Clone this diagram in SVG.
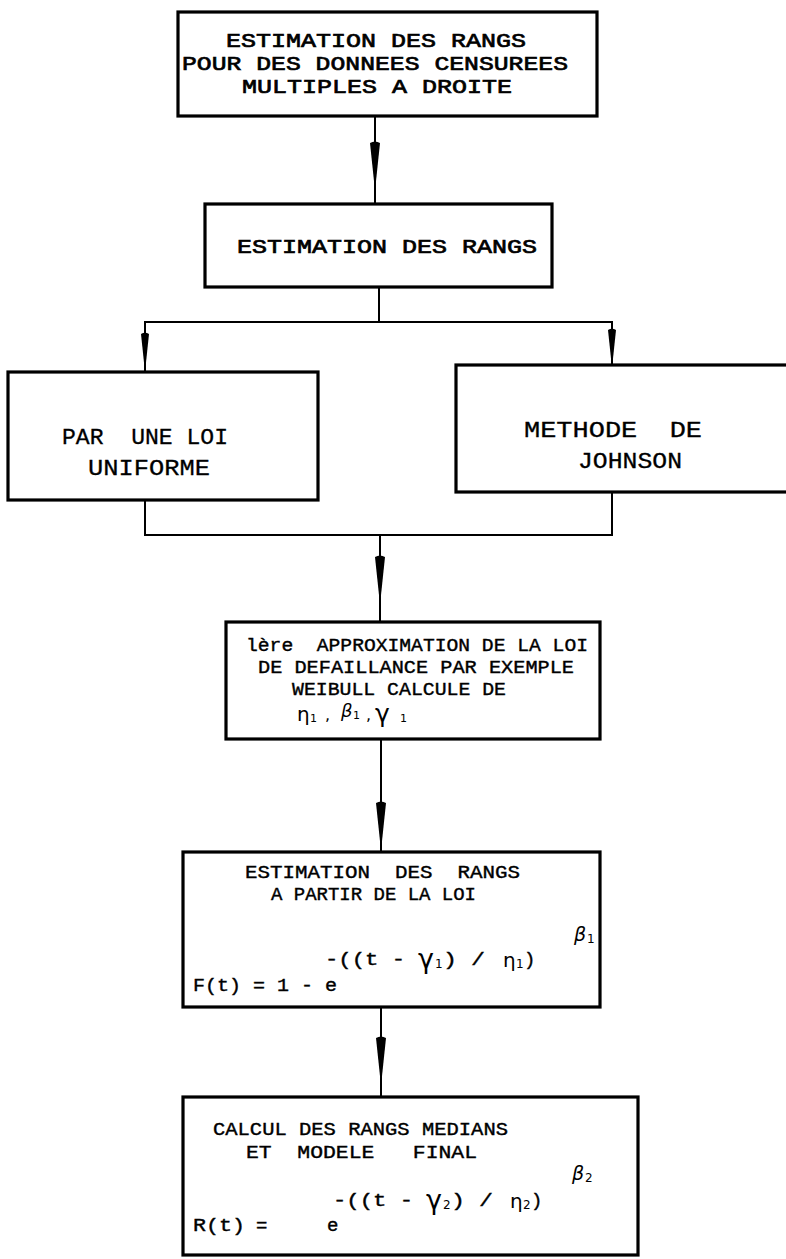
<svg xmlns="http://www.w3.org/2000/svg" xmlns:xlink="http://www.w3.org/1999/xlink" width="786" height="1259" viewBox="0 0 786 1259">
<style>
text{white-space:pre}
.box{fill:#fff;stroke:#000;stroke-width:3.2}
.ln{fill:none;stroke:#000;stroke-width:2}
.t{font-family:"Liberation Mono","Courier New",monospace;font-size:22px;fill:#000;stroke:#000;stroke-width:0.3}
.tb{font-family:"Liberation Mono","Courier New",monospace;font-size:21px;fill:#000;stroke:#000;stroke-width:0.7}
.tm{font-family:"Liberation Mono","Courier New",monospace;font-size:19px;fill:#000;stroke:#000;stroke-width:0.4}
.g{font-family:"DejaVu Sans","Liberation Sans",sans-serif;fill:#000}
.gi{font-family:"DejaVu Sans","Liberation Sans",sans-serif;font-style:italic;fill:#000}
</style>
<defs>
<path id="ah" d="M-5,0 Q0,-3 5,0 L0.8,40 L-0.8,40 Z" fill="#000"/>
</defs>
<g id="connectors">
<line class="ln" x1="375" y1="116" x2="375" y2="204"/>
<use xlink:href="#ah" x="375" y="143"/>
<polyline class="ln" points="379,287 379,322"/>
<polyline class="ln" points="145,372 145,322 612,322 612,365"/>
<use xlink:href="#ah" transform="translate(145,334) scale(0.8)"/>
<use xlink:href="#ah" transform="translate(612,330) scale(0.8)"/>
<polyline class="ln" points="145,500 145,535 612,535 612,492"/>
<line class="ln" x1="380" y1="535" x2="380" y2="622"/>
<use xlink:href="#ah" x="380" y="557"/>
<line class="ln" x1="381" y1="739" x2="381" y2="852"/>
<use xlink:href="#ah" x="381" y="803"/>
<line class="ln" x1="381" y1="1007" x2="381" y2="1097"/>
<use xlink:href="#ah" x="381" y="1038"/>
</g>
<g id="n1">
<rect class="box" x="178" y="12" width="419" height="104"/>
<text class="tb" x="226" y="47" textLength="300" lengthAdjust="spacingAndGlyphs">ESTIMATION DES RANGS</text>
<text class="tb" x="182" y="70" textLength="386" lengthAdjust="spacingAndGlyphs">POUR DES DONNEES CENSUREES</text>
<text class="tb" x="242" y="93" textLength="270" lengthAdjust="spacingAndGlyphs">MULTIPLES A DROITE</text>
</g>
<g id="n2">
<rect class="box" x="205" y="204" width="347" height="83"/>
<text class="tb" x="237" y="253" textLength="300" lengthAdjust="spacingAndGlyphs">ESTIMATION DES RANGS</text>
</g>
<g id="n3">
<rect class="box" x="8" y="372" width="310" height="128"/>
<text class="t" x="62" y="444" textLength="166" lengthAdjust="spacingAndGlyphs">PAR  UNE LOI</text>
<text class="t" x="88" y="475" textLength="122" lengthAdjust="spacingAndGlyphs">UNIFORME</text>
</g>
<g id="n4">
<rect class="box" x="456" y="365" width="340" height="127"/>
<text class="t" x="524" y="437" textLength="178" lengthAdjust="spacingAndGlyphs">METHODE  DE</text>
<text class="t" x="578" y="468" textLength="104" lengthAdjust="spacingAndGlyphs">JOHNSON</text>
</g>
<g id="n5">
<rect class="box" x="226" y="622" width="374" height="117"/>
<text class="tm" x="246" y="651" textLength="342" lengthAdjust="spacingAndGlyphs">lère  APPROXIMATION DE LA LOI</text>
<text class="tm" x="258" y="673" textLength="316" lengthAdjust="spacingAndGlyphs">DE DEFAILLANCE PAR EXEMPLE</text>
<text class="tm" x="292" y="695" textLength="214" lengthAdjust="spacingAndGlyphs">WEIBULL CALCULE DE</text>
<text class="g" x="297" y="721" font-size="20">η</text>
<text class="g" x="310" y="722" font-size="11">1</text>
<text class="g" x="325" y="720" font-size="16">,</text>
<text class="gi" x="341" y="717" font-size="18">β</text>
<text class="g" x="353" y="719" font-size="11">1</text>
<text class="g" x="366" y="720" font-size="16">,</text>
<text class="g" x="375" y="722" font-size="25">γ</text>
<text class="g" x="400" y="722" font-size="11">1</text>
</g>
<g id="n6">
<rect class="box" x="183" y="852" width="417" height="155"/>
<text class="tm" x="245" y="878" textLength="275" lengthAdjust="spacingAndGlyphs">ESTIMATION  DES  RANGS</text>
<text class="tm" x="271" y="900" textLength="205" lengthAdjust="spacingAndGlyphs">A PARTIR DE LA LOI</text>
<text class="gi" x="574" y="941" font-size="19">β</text>
<text class="g" x="587" y="943" font-size="12">1</text>
<text class="tm" x="325" y="965" textLength="80" lengthAdjust="spacingAndGlyphs">-((t -</text>
<text class="g" x="418" y="968" font-size="27">γ</text>
<text class="g" x="435" y="968" font-size="12">1</text>
<text class="tm" x="443" y="965" textLength="42" lengthAdjust="spacingAndGlyphs">) /</text>
<text class="g" x="503" y="967" font-size="20">η</text>
<text class="g" x="516" y="968" font-size="12">1</text>
<text class="tm" x="524" y="965">)</text>
<text class="tm" x="193" y="991" textLength="144" lengthAdjust="spacingAndGlyphs">F(t) = 1 - e</text>
</g>
<g id="n7">
<rect class="box" x="183" y="1097" width="455" height="158"/>
<text class="tm" x="213" y="1135" textLength="295" lengthAdjust="spacingAndGlyphs">CALCUL DES RANGS MEDIANS</text>
<text class="tm" x="246" y="1158" textLength="231" lengthAdjust="spacingAndGlyphs">ET  MODELE   FINAL</text>
<text class="gi" x="572" y="1180" font-size="19">β</text>
<text class="g" x="585" y="1182" font-size="12">2</text>
<text class="tm" x="333" y="1206" textLength="80" lengthAdjust="spacingAndGlyphs">-((t -</text>
<text class="g" x="426" y="1209" font-size="27">γ</text>
<text class="g" x="443" y="1209" font-size="12">2</text>
<text class="tm" x="451" y="1206" textLength="42" lengthAdjust="spacingAndGlyphs">) /</text>
<text class="g" x="510" y="1208" font-size="20">η</text>
<text class="g" x="523" y="1209" font-size="12">2</text>
<text class="tm" x="531" y="1206">)</text>
<text class="tm" x="193" y="1231" textLength="52" lengthAdjust="spacingAndGlyphs">R(t)</text>
<text class="tm" x="256" y="1231">=</text>
<text class="tm" x="327" y="1231">e</text>
</g>
</svg>
